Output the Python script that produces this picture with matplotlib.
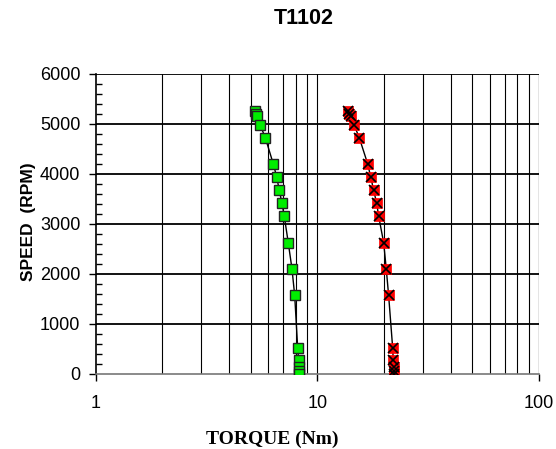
import matplotlib
matplotlib.use("Agg")
import matplotlib.pyplot as plt
from matplotlib.ticker import FixedLocator, MultipleLocator, NullFormatter

speed = [5250, 5200, 5150, 4980, 4720, 4200, 3940, 3670, 3410, 3150,
         2620, 2100, 1570, 520, 270, 140, 60, 0]
torque_green = [5.22, 5.28, 5.33, 5.52, 5.83, 6.33, 6.56, 6.74, 6.93, 7.10,
                7.40, 7.69, 7.91, 8.16, 8.24, 8.27, 8.27, 8.27]
torque_red = [13.80, 13.95, 14.15, 14.64, 15.47, 16.87, 17.41, 17.96, 18.53, 18.92,
              19.93, 20.47, 20.98, 21.88, 22.02, 22.18, 22.18, 22.18]

fig = plt.figure(figsize=(5.56, 4.49), dpi=100)
ax = fig.add_axes([0.1718, 0.1677, 0.7976, 0.6682])

ax.set_xscale("log")
ax.set_xlim(1, 100)
ax.set_ylim(0, 6000)

# grid
minor_x = [m * d for d in (1, 10) for m in range(2, 10)]
for xv in minor_x + [10]:
    ax.axvline(xv, color="black", lw=0.8, zorder=1)
ax.axvline(100, color="#777777", lw=1.0, zorder=1)
for yv in range(1000, 7000, 1000):
    ax.axhline(yv, color="black", lw=1.3, zorder=1)

ax.plot(torque_green, speed, color="black", lw=1.0, zorder=2)
ax.plot(torque_green, speed, ls="none", marker="s", ms=7.5, mfc="#00ee00",
        mec="#222222", mew=1.0, zorder=3)
ax.plot(torque_red, speed, color="black", lw=1.0, zorder=2)
ax.plot(torque_red, speed, ls="none", marker="s", ms=7.5, mfc="#ff0000",
        mec="#ff0000", mew=0.5, zorder=3)
ax.plot(torque_red, speed, ls="none", marker="x", ms=7.5, mec="black",
        mew=1.2, zorder=4)

for s in ("top", "right"):
    ax.spines[s].set_visible(False)
ax.spines["left"].set_color("black")
ax.spines["left"].set_linewidth(1.2)
ax.spines["bottom"].set_color("#777777")
ax.spines["bottom"].set_linewidth(1.2)

ax.xaxis.set_major_locator(FixedLocator([1, 10, 100]))
ax.xaxis.set_minor_locator(FixedLocator(minor_x))
ax.xaxis.set_minor_formatter(NullFormatter())
ax.set_xticklabels(["1", "10", "100"])
ax.yaxis.set_major_locator(MultipleLocator(1000))
ax.yaxis.set_minor_locator(MultipleLocator(200))

ax.tick_params(axis="both", which="major", direction="out", length=5,
               width=1.0, color="black", pad=6, labelsize=13)
ax.tick_params(axis="x", which="major", pad=10)
ax.tick_params(axis="x", which="minor", length=0)
ax.tick_params(axis="y", which="minor", direction="in", length=4, width=1.0)
for lab in ax.get_xticklabels() + ax.get_yticklabels():
    lab.set_fontfamily("Liberation Sans")

fig.text(272 / 556, 1 - 439 / 449, "TORQUE (Nm)", ha="center", va="center",
         fontfamily="Liberation Serif", fontweight="bold", fontsize=14)
fig.text(28 / 556, 1 - 222 / 449, "SPEED  (RPM)", ha="center", va="center",
         rotation=90, fontfamily="Liberation Sans", fontweight="bold",
         fontsize=12.5)
fig.text(304 / 556, 1 - 18 / 449, "T1102", ha="center", va="center",
         fontfamily="Liberation Sans", fontweight="bold", fontsize=15.5)

fig.savefig("out.png", dpi=100)
